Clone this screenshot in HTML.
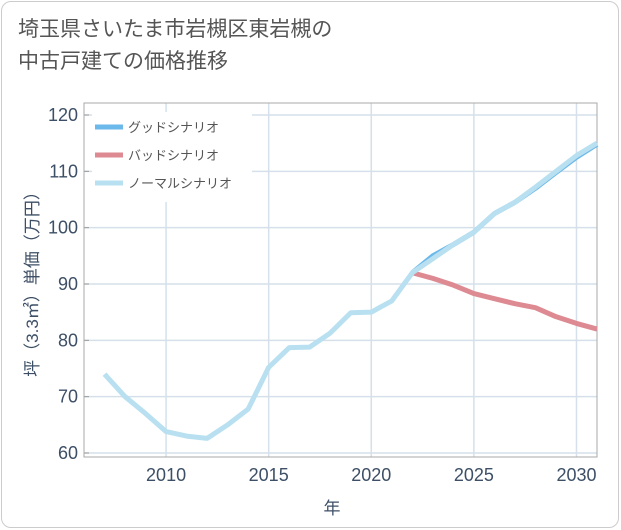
<!DOCTYPE html>
<html><head><meta charset="utf-8"><style>
body{margin:0;background:#fff;font-family:"Liberation Sans","Noto Sans CJK JP",sans-serif;}
#card{position:absolute;left:1px;top:1px;width:616px;height:525px;border:1px solid #ccc;border-radius:10px;background:#fff;}
#title{position:absolute;left:18px;top:14px;font-size:21px;line-height:32px;color:#555;}
svg{position:absolute;left:0;top:0;}
</style></head><body>
<div id="card"></div>
<div id="title">埼玉県さいたま市岩槻区東岩槻の<br>中古戸建ての価格推移</div>
<svg id="chart" width="621" height="530"></svg>
<script>
const years=[2007,2008,2009,2010,2011,2012,2013,2014,2015,2016,2017,2018,2019,2020,2021,2022,2023,2024,2025,2026,2027,2028,2029,2030,2031];
const normal=[74,70,67,63.8,63,62.6,65,67.8,75.2,78.7,78.8,81.3,84.9,85,87,92,94.5,97,99.2,102.5,104.5,107.2,110,112.8,115];
const futureYears=[2022,2023,2024,2025,2026,2027,2028,2029,2030,2031];
const good=[92,95,97,99.2,102.5,104.5,107,109.8,112.5,114.8];
const bad=[92,91,89.8,88.3,87.4,86.5,85.8,84.2,83,82];
const xTicks=[2010,2015,2020,2025,2030];
const yTicks=[60,70,80,90,100,110,120];
const NS="http://www.w3.org/2000/svg";
const svg=document.getElementById('chart');
const L=84,R=597,T=103,B=457;
const x=v=>L+(v-2006)/(2031-2006)*(R-L);
const y=v=>453-(v-60)/60*(453-115);
function mk(t,a,p){const e=document.createElementNS(NS,t);for(const k in a)e.setAttribute(k,a[k]);(p||svg).appendChild(e);return e;}
xTicks.forEach(t=>{const e=mk('line',{x1:x(t),x2:x(t),y1:T,y2:B,stroke:'#d5e0ea','stroke-width':1.5});

const l=mk('text',{x:x(t),y:481,'text-anchor':'middle','font-size':18,fill:'#3d4f66'});l.textContent=t;
});
yTicks.forEach(t=>{const e=mk('line',{x1:L,x2:R,y1:y(t),y2:y(t),stroke:'#d5e0ea','stroke-width':1.5});

mk('line',{x1:L,x2:L+5,y1:y(t),y2:y(t),stroke:'#999'});
const l=mk('text',{x:78,y:y(t)+6,'text-anchor':'end','font-size':18,fill:'#3d4f66'});l.textContent=t;
});
const fr=mk('rect',{x:L,y:T,width:R-L,height:B-T,fill:'none',stroke:'#aaa','stroke-width':1});

function line(xs,vs,c,w,n){const p=mk('polyline',{points:xs.map((v,i)=>x(v)+','+y(vs[i])).join(' '),fill:'none',stroke:c,'stroke-width':w,'stroke-linejoin':'round'});
}
line(futureYears,bad,'#dd8a92',5,'bad-scenario-line');
line(futureYears,good,'#6bb8ea',5,'good-scenario-line');
line(years,normal,'#b9e0f0',5,'normal-scenario-line');
const lg=mk('rect',{x:92,y:112,width:160,height:90,fill:'#fff'});

[['グッドシナリオ','#6bb8ea'],['バッドシナリオ','#dd8a92'],['ノーマルシナリオ','#b9e0f0']].forEach((d,i)=>{
const yy=126+i*28;const s=mk('line',{x1:95,x2:123,y1:yy+1,y2:yy+1,stroke:d[1],'stroke-width':5});

const t=mk('text',{x:128,y:yy+6,'font-size':13,fill:'#555'});t.textContent=d[0];
});
const yt=mk('text',{transform:'translate(38,280) rotate(-90)','text-anchor':'middle','font-size':17,fill:'#3d4f66'});yt.textContent='坪（3.3㎡）単価（万円）';

const xt=mk('text',{x:332,y:514,'text-anchor':'middle','font-size':17,fill:'#3d4f66'});xt.textContent='年';

</script>
</body></html>
